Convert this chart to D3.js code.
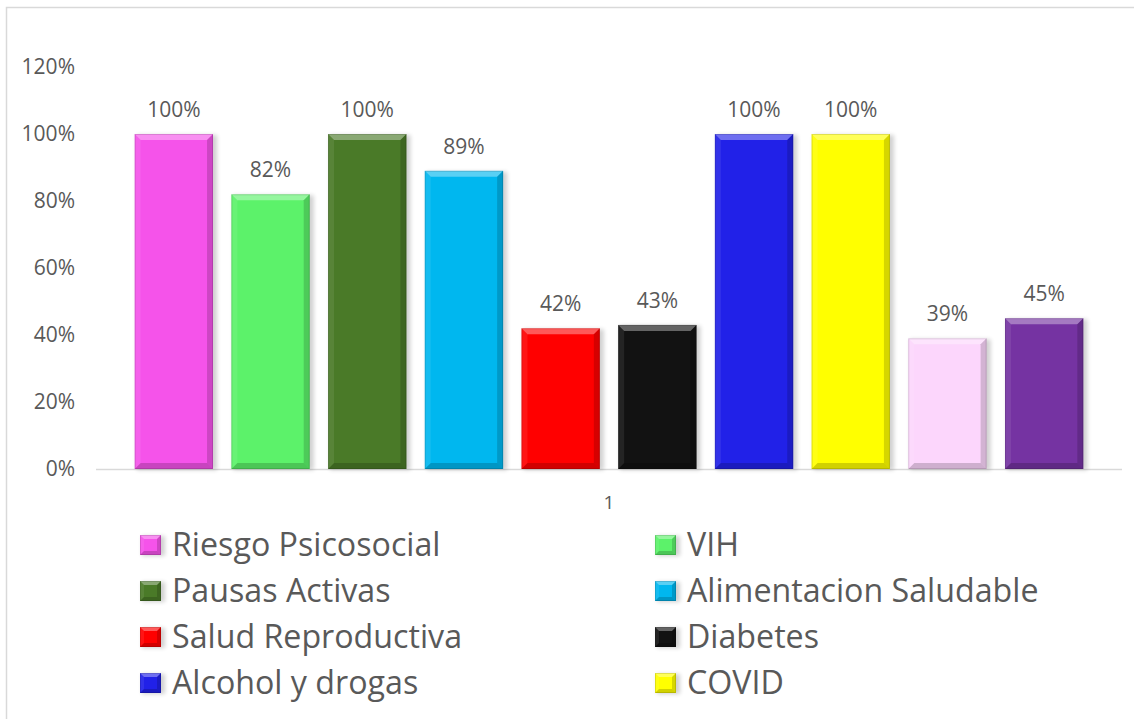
<!DOCTYPE html>
<html>
<head>
<meta charset="utf-8">
<script src="https://cdn.jsdelivr.net/npm/d3@7"></script>
<style>
  body { margin: 0; background: #fff; }
  #chart { width: 1134px; height: 719px; }
  text { font-family: "Open Sans", "Liberation Sans", sans-serif; fill: #595959; }
</style>
</head>
<body>
<div id="chart"></div>
<script>
// Data
const categories = ["1"];
const seriesNames = [
  "Riesgo Psicosocial", "VIH", "Pausas Activas", "Alimentacion Saludable",
  "Salud Reproductiva", "Diabetes", "Alcohol y drogas", "COVID",
  "Serie 9", "Serie 10"
];
const seriesValues = [1.00, 0.82, 1.00, 0.89, 0.42, 0.43, 1.00, 1.00, 0.39, 0.45];
const seriesColors = [
  "#f553ea", "#5cf26a", "#4a7a28", "#00b7ef",
  "#ff0000", "#121212", "#2121e8", "#ffff00",
  "#fcd6fc", "#7533a2"
];
const yTicks = [0, 0.2, 0.4, 0.6, 0.8, 1.0, 1.2];
const legendCount = 8; // rows below the frame are cut off

const W = 1134, H = 719;
const margin = { top: 67, right: 12, bottom: 250, left: 96 };
const plotW = W - margin.left - margin.right;
const plotH = H - margin.top - margin.bottom;

const svg = d3.select("#chart").append("svg")
  .attr("width", W).attr("height", H);

const defs = svg.append("defs");
defs.append("filter").attr("id", "shadow")
  .attr("x", "-20%").attr("y", "-20%").attr("width", "140%").attr("height", "140%")
  .append("feGaussianBlur").attr("stdDeviation", 2);

// chart frame
svg.append("rect")
  .attr("x", 6.5).attr("y", 7.5)
  .attr("width", W + 20).attr("height", H + 20)
  .attr("fill", "none").attr("stroke", "#d9d9d9").attr("stroke-width", 1.5);

const g = svg.append("g").attr("transform", `translate(${margin.left},${margin.top})`);

const y = d3.scaleLinear().domain([0, 1.2]).range([plotH, 0]);
const x0 = d3.scaleBand().domain(categories).range([0, plotW]);
const x1 = d3.scaleBand().domain(seriesNames)
  .range([29.5, plotW - 29.5]).paddingInner(0.19).paddingOuter(0.095);

// y tick labels (no axis line, no gridlines)
g.append("g").selectAll("text")
  .data(yTicks).join("text")
  .attr("x", -21).attr("y", d => y(d))
  .attr("dy", "0.35em").attr("text-anchor", "end")
  .attr("font-size", 21)
  .text(d3.format(".0%"));

// bevel helper
function bevelBar(sel, bx, by, bw, bh, color, b) {
  const grp = sel.append("g");
  grp.append("rect")
    .attr("x", bx + 2).attr("y", by + 1).attr("width", bw + 2).attr("height", bh)
    .attr("fill", "#000").attr("opacity", 0.18).attr("filter", "url(#shadow)");
  grp.append("rect")
    .attr("x", bx).attr("y", by).attr("width", bw).attr("height", bh)
    .attr("fill", color);
  const pts = (arr) => arr.map(p => p.join(",")).join(" ");
  // top
  grp.append("polygon")
    .attr("points", pts([[bx, by], [bx + bw, by], [bx + bw - b, by + b], [bx + b, by + b]]))
    .attr("fill", "#fff").attr("opacity", 0.35);
  // left
  grp.append("polygon")
    .attr("points", pts([[bx, by], [bx + b, by + b], [bx + b, by + bh - b], [bx, by + bh]]))
    .attr("fill", "#fff").attr("opacity", 0.08);
  // right
  grp.append("polygon")
    .attr("points", pts([[bx + bw, by], [bx + bw, by + bh], [bx + bw - b, by + bh - b], [bx + bw - b, by + b]]))
    .attr("fill", "#000").attr("opacity", 0.16);
  // bottom
  grp.append("polygon")
    .attr("points", pts([[bx, by + bh], [bx + b, by + bh - b], [bx + bw - b, by + bh - b], [bx + bw, by + bh]]))
    .attr("fill", "#000").attr("opacity", 0.18);
  grp.append("rect")
    .attr("x", bx + 0.5).attr("y", by + 0.5).attr("width", bw - 1).attr("height", bh - 1)
    .attr("fill", "none").attr("stroke", "#000").attr("stroke-opacity", 0.12);
}

// x axis line
g.append("line")
  .attr("x1", 0).attr("x2", plotW)
  .attr("y1", plotH + 0.5).attr("y2", plotH + 0.5)
  .attr("stroke", "#d9d9d9").attr("stroke-width", 1.5);

// bars
const barsG = g.append("g");
seriesNames.forEach((name, i) => {
  const bx = x0("1") + x1(name);
  const by = y(seriesValues[i]);
  bevelBar(barsG, bx, by, x1.bandwidth(), plotH - by, seriesColors[i], 6);
});

// data labels
g.append("g").selectAll("text")
  .data(seriesNames).join("text")
  .attr("x", d => x0("1") + x1(d) + x1.bandwidth() / 2)
  .attr("y", (d, i) => y(seriesValues[i]) - 17)
  .attr("text-anchor", "middle").attr("font-size", 21)
  .attr("fill", "#404040")
  .text((d, i) => d3.format(".0%")(seriesValues[i]));

// category label
g.append("text")
  .attr("x", x0("1") + x0.bandwidth() / 2).attr("y", plotH + 40)
  .attr("text-anchor", "middle").attr("font-size", 19)
  .text(categories[0]);

// legend
const legend = svg.append("g");
const legCols = [140, 655], legRow0 = 545, legRowH = 46;
seriesNames.slice(0, legendCount).forEach((name, i) => {
  const cx = legCols[i % 2];
  const cy = legRow0 + Math.floor(i / 2) * legRowH;
  bevelBar(legend, cx, cy - 10, 21, 20, seriesColors[i], 4);
  legend.append("text")
    .attr("x", cx + 32).attr("y", cy)
    .attr("dy", "0.35em").attr("font-size", 32.2)
    .text(name);
});
</script>
</body>
</html>
